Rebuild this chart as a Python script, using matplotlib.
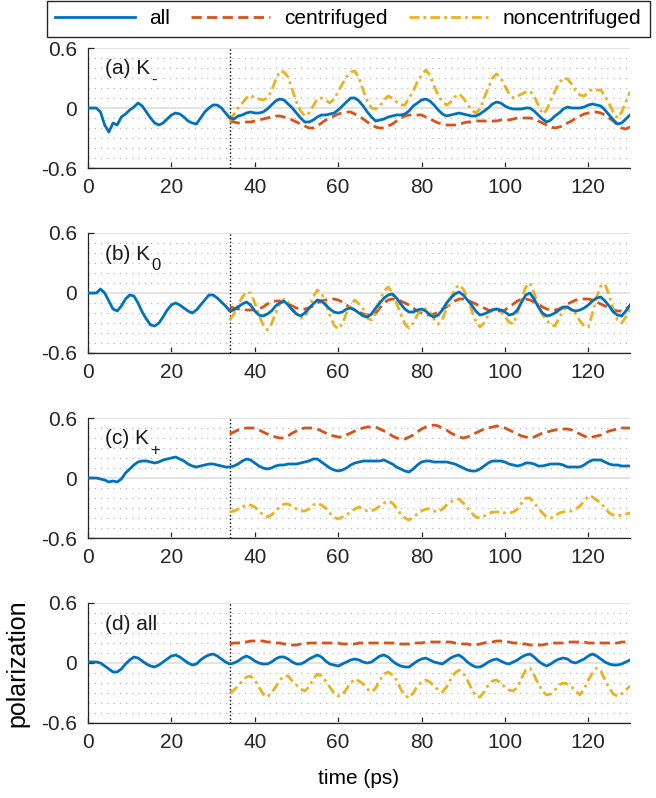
import matplotlib.pyplot as plt
import numpy as np
from matplotlib.ticker import MultipleLocator


# time axes (ps), sampled every 1 ps
t_all = np.arange(0, 131)
t_post = np.arange(34, 131)
t_switch = 34

# (a) K-
a_all = [0, 0, 0, -0.04, -0.17, -0.24, -0.15, -0.17, -0.09, -0.06,
         -0.02, 0.01, 0.05, 0.02, -0.04, -0.10, -0.15, -0.17, -0.15, -0.11,
         -0.07, -0.05, -0.06, -0.09, -0.13, -0.15, -0.16, -0.10, -0.04, 0.00,
         0.03, 0.03, 0.00, -0.05, -0.10, -0.11, -0.08, -0.07, -0.05, -0.04,
         -0.05, -0.05, -0.04, -0.01, 0.03, 0.07, 0.09, 0.08, 0.04, 0.00,
         -0.05, -0.10, -0.14, -0.14, -0.12, -0.09, -0.07, -0.07, -0.06, -0.05,
         -0.02, 0.02, 0.06, 0.10, 0.10, 0.07, 0.02, -0.04, -0.09, -0.13,
         -0.12, -0.11, -0.09, -0.08, -0.07, -0.07, -0.06, -0.03, 0.02, 0.05,
         0.08, 0.09, 0.07, 0.03, -0.02, -0.06, -0.08, -0.07, -0.06, -0.05,
         -0.06, -0.07, -0.08, -0.08, -0.06, -0.03, 0.00, 0.04, 0.06, 0.05,
         0.02, 0.00, -0.01, -0.01, -0.01, 0.00, 0.00, -0.03, -0.07, -0.11,
         -0.14, -0.12, -0.08, -0.05, -0.01, 0.01, 0.00, 0.00, 0.00, 0.01,
         0.03, 0.04, 0.03, 0.02, -0.02, -0.07, -0.12, -0.16, -0.15, -0.11,
         -0.07]
a_cen = [-0.13, -0.14, -0.15, -0.15, -0.14, -0.14, -0.13, -0.12, -0.11, -0.10,
         -0.09, -0.08, -0.08, -0.09, -0.10, -0.12, -0.14, -0.16, -0.18, -0.20,
         -0.20, -0.18, -0.15, -0.12, -0.10, -0.08, -0.06, -0.05, -0.04, -0.04,
         -0.06, -0.08, -0.11, -0.14, -0.17, -0.19, -0.20, -0.20, -0.18, -0.16,
         -0.13, -0.10, -0.08, -0.07, -0.07, -0.07, -0.07, -0.09, -0.11, -0.13,
         -0.15, -0.16, -0.17, -0.17, -0.17, -0.16, -0.15, -0.14, -0.14, -0.13,
         -0.13, -0.13, -0.13, -0.13, -0.13, -0.12, -0.12, -0.12, -0.11, -0.10,
         -0.10, -0.10, -0.10, -0.11, -0.13, -0.15, -0.17, -0.19, -0.20, -0.19,
         -0.18, -0.15, -0.13, -0.10, -0.08, -0.06, -0.05, -0.04, -0.04, -0.05,
         -0.07, -0.10, -0.13, -0.17, -0.20, -0.21, -0.19]
a_non = [-0.13, -0.06, 0.00, 0.05, 0.10, 0.13, 0.10, 0.09, 0.08, 0.10,
         0.17, 0.28, 0.37, 0.36, 0.31, 0.18, 0.06, -0.03, -0.08, -0.05,
         0.02, 0.09, 0.10, 0.08, 0.05, 0.09, 0.16, 0.24, 0.31, 0.36,
         0.37, 0.30, 0.18, 0.07, 0.00, -0.01, 0.02, 0.08, 0.12, 0.10,
         0.06, 0.03, 0.03, 0.10, 0.17, 0.26, 0.33, 0.38, 0.33, 0.22,
         0.13, 0.06, 0.03, 0.06, 0.11, 0.14, 0.10, 0.04, -0.02, -0.05,
         -0.01, 0.10, 0.20, 0.30, 0.34, 0.30, 0.22, 0.14, 0.10, 0.12,
         0.14, 0.16, 0.17, 0.12, 0.03, -0.06, -0.02, 0.08, 0.17, 0.25,
         0.30, 0.29, 0.24, 0.17, 0.13, 0.12, 0.16, 0.19, 0.18, 0.18,
         0.12, 0.04, -0.04, -0.10, -0.04, 0.06, 0.16]

# (b) K0
b_all = [0, 0, 0, 0.04, 0.00, -0.08, -0.16, -0.18, -0.13, -0.06,
         -0.02, -0.03, -0.10, -0.19, -0.26, -0.32, -0.33, -0.30, -0.24, -0.17,
         -0.12, -0.10, -0.12, -0.15, -0.18, -0.20, -0.17, -0.12, -0.07, -0.02,
         -0.02, -0.05, -0.09, -0.13, -0.18, -0.17, -0.14, -0.11, -0.09, -0.12,
         -0.18, -0.22, -0.23, -0.21, -0.18, -0.13, -0.10, -0.08, -0.12, -0.17,
         -0.21, -0.23, -0.20, -0.15, -0.11, -0.07, -0.08, -0.12, -0.16, -0.19,
         -0.20, -0.19, -0.16, -0.15, -0.17, -0.20, -0.23, -0.24, -0.21, -0.15,
         -0.10, -0.05, -0.02, -0.01, -0.05, -0.11, -0.16, -0.19, -0.19, -0.17,
         -0.16, -0.18, -0.22, -0.24, -0.22, -0.17, -0.10, -0.05, -0.01, 0.01,
         -0.02, -0.07, -0.12, -0.18, -0.22, -0.21, -0.19, -0.17, -0.16, -0.17,
         -0.19, -0.22, -0.21, -0.17, -0.09, -0.02, 0.00, -0.06, -0.14, -0.20,
         -0.23, -0.22, -0.20, -0.17, -0.14, -0.14, -0.17, -0.18, -0.17, -0.15,
         -0.12, -0.08, -0.05, -0.04, -0.08, -0.13, -0.19, -0.22, -0.23, -0.18,
         -0.12]
b_cen = [-0.14, -0.15, -0.16, -0.16, -0.17, -0.17, -0.17, -0.16, -0.14, -0.11,
         -0.09, -0.08, -0.08, -0.09, -0.11, -0.13, -0.15, -0.16, -0.16, -0.15,
         -0.13, -0.10, -0.08, -0.07, -0.06, -0.06, -0.07, -0.09, -0.12, -0.15,
         -0.17, -0.19, -0.21, -0.22, -0.22, -0.20, -0.15, -0.10, -0.07, -0.06,
         -0.07, -0.08, -0.10, -0.12, -0.15, -0.18, -0.20, -0.22, -0.22, -0.21,
         -0.19, -0.16, -0.14, -0.11, -0.08, -0.06, -0.06, -0.07, -0.09, -0.11,
         -0.13, -0.15, -0.17, -0.18, -0.18, -0.18, -0.17, -0.14, -0.11, -0.08,
         -0.06, -0.06, -0.07, -0.09, -0.11, -0.14, -0.16, -0.17, -0.17, -0.16,
         -0.14, -0.11, -0.09, -0.07, -0.06, -0.06, -0.06, -0.07, -0.09, -0.11,
         -0.13, -0.15, -0.17, -0.18, -0.18, -0.16, -0.13]
b_non = [-0.27, -0.21, -0.12, -0.04, 0.01, 0.00, -0.10, -0.22, -0.32, -0.37,
         -0.31, -0.20, -0.11, -0.06, -0.09, -0.15, -0.21, -0.25, -0.25, -0.15,
         -0.04, 0.03, 0.00, -0.10, -0.22, -0.32, -0.36, -0.31, -0.20, -0.12,
         -0.07, -0.11, -0.16, -0.25, -0.27, -0.20, -0.08, 0.02, 0.06, 0.00,
         -0.10, -0.21, -0.31, -0.35, -0.30, -0.22, -0.16, -0.16, -0.19, -0.26,
         -0.31, -0.26, -0.16, -0.05, 0.04, 0.08, 0.04, -0.05, -0.17, -0.28,
         -0.34, -0.30, -0.22, -0.16, -0.16, -0.19, -0.24, -0.29, -0.31, -0.20,
         -0.06, 0.06, 0.10, 0.00, -0.13, -0.22, -0.27, -0.32, -0.33, -0.25,
         -0.17, -0.14, -0.16, -0.21, -0.28, -0.33, -0.34, -0.20, -0.04, 0.07,
         0.09, -0.02, -0.17, -0.27, -0.30, -0.24, -0.16]

# (c) K+
c_all = [0, 0, 0, -0.01, -0.02, -0.04, -0.03, -0.04, -0.01, 0.05,
         0.09, 0.13, 0.16, 0.17, 0.17, 0.16, 0.15, 0.16, 0.18, 0.19,
         0.20, 0.21, 0.19, 0.17, 0.14, 0.12, 0.11, 0.12, 0.13, 0.14,
         0.14, 0.13, 0.12, 0.11, 0.11, 0.12, 0.14, 0.17, 0.19, 0.18,
         0.15, 0.12, 0.10, 0.09, 0.10, 0.12, 0.13, 0.13, 0.14, 0.14,
         0.14, 0.15, 0.16, 0.17, 0.19, 0.19, 0.16, 0.13, 0.10, 0.08,
         0.07, 0.08, 0.10, 0.13, 0.15, 0.16, 0.17, 0.17, 0.17, 0.17,
         0.17, 0.18, 0.16, 0.14, 0.11, 0.09, 0.07, 0.06, 0.09, 0.13,
         0.16, 0.17, 0.17, 0.16, 0.16, 0.16, 0.16, 0.15, 0.14, 0.12,
         0.10, 0.08, 0.07, 0.07, 0.09, 0.12, 0.15, 0.17, 0.17, 0.17,
         0.16, 0.14, 0.13, 0.12, 0.13, 0.15, 0.15, 0.14, 0.12, 0.12,
         0.13, 0.14, 0.14, 0.14, 0.13, 0.11, 0.11, 0.11, 0.11, 0.13,
         0.16, 0.18, 0.18, 0.18, 0.16, 0.14, 0.13, 0.13, 0.12, 0.12,
         0.12]
c_cen = [0.44, 0.46, 0.48, 0.49, 0.50, 0.50, 0.50, 0.48, 0.46, 0.44,
         0.42, 0.41, 0.40, 0.40, 0.42, 0.45, 0.47, 0.49, 0.50, 0.50,
         0.50, 0.49, 0.47, 0.45, 0.43, 0.42, 0.41, 0.41, 0.43, 0.45,
         0.47, 0.49, 0.50, 0.51, 0.51, 0.51, 0.49, 0.47, 0.45, 0.42,
         0.40, 0.39, 0.39, 0.41, 0.43, 0.46, 0.49, 0.51, 0.52, 0.53,
         0.52, 0.50, 0.48, 0.45, 0.43, 0.41, 0.40, 0.41, 0.43, 0.45,
         0.47, 0.49, 0.50, 0.51, 0.52, 0.51, 0.50, 0.48, 0.46, 0.44,
         0.42, 0.41, 0.40, 0.41, 0.43, 0.45, 0.46, 0.47, 0.48, 0.49,
         0.49, 0.49, 0.48, 0.46, 0.44, 0.42, 0.40, 0.41, 0.42, 0.43,
         0.45, 0.47, 0.48, 0.49, 0.50, 0.50, 0.50]
c_non = [-0.34, -0.33, -0.31, -0.29, -0.27, -0.27, -0.29, -0.33, -0.37, -0.39,
         -0.37, -0.33, -0.29, -0.26, -0.26, -0.28, -0.31, -0.33, -0.33, -0.31,
         -0.27, -0.25, -0.27, -0.30, -0.35, -0.39, -0.41, -0.39, -0.37, -0.34,
         -0.31, -0.29, -0.31, -0.33, -0.33, -0.31, -0.28, -0.25, -0.23, -0.25,
         -0.30, -0.36, -0.40, -0.42, -0.39, -0.36, -0.33, -0.31, -0.31, -0.33,
         -0.34, -0.31, -0.27, -0.24, -0.22, -0.21, -0.25, -0.30, -0.35, -0.39,
         -0.40, -0.38, -0.36, -0.34, -0.34, -0.34, -0.35, -0.35, -0.34, -0.31,
         -0.25, -0.20, -0.20, -0.25, -0.30, -0.35, -0.39, -0.40, -0.38, -0.35,
         -0.34, -0.33, -0.33, -0.31, -0.28, -0.23, -0.18, -0.19, -0.22, -0.25,
         -0.30, -0.35, -0.37, -0.38, -0.37, -0.36, -0.35]

# (d) all
d_all = [0.01, 0.01, 0.01, 0.00, -0.03, -0.06, -0.09, -0.09, -0.06, -0.01,
         0.03, 0.06, 0.05, 0.02, -0.01, -0.03, -0.04, -0.02, 0.01, 0.04,
         0.07, 0.08, 0.06, 0.03, 0.00, -0.02, -0.01, 0.03, 0.06, 0.08,
         0.09, 0.07, 0.04, 0.01, -0.01, 0.00, 0.02, 0.05, 0.07, 0.05,
         0.02, 0.00, -0.01, -0.01, 0.01, 0.04, 0.06, 0.06, 0.04, 0.01,
         -0.01, -0.01, 0.01, 0.04, 0.06, 0.08, 0.06, 0.02, -0.01, -0.02,
         -0.03, -0.01, 0.01, 0.03, 0.04, 0.03, 0.01, 0.00, 0.01, 0.04,
         0.07, 0.08, 0.06, 0.02, -0.01, -0.03, -0.04, -0.04, -0.01, 0.02,
         0.04, 0.05, 0.03, 0.01, 0.00, -0.01, 0.02, 0.05, 0.07, 0.08,
         0.05, 0.01, -0.02, -0.04, -0.04, -0.02, 0.01, 0.03, 0.04, 0.02,
         0.00, -0.01, 0.01, 0.03, 0.06, 0.08, 0.09, 0.06, 0.02, -0.01,
         -0.03, -0.01, 0.02, 0.04, 0.05, 0.04, 0.01, 0.00, 0.02, 0.04,
         0.07, 0.09, 0.07, 0.04, 0.01, -0.01, -0.02, -0.02, -0.01, 0.01,
         0.03]
d_cen = [0.19, 0.20, 0.20, 0.21, 0.21, 0.22, 0.22, 0.22, 0.22, 0.21,
         0.21, 0.20, 0.20, 0.19, 0.19, 0.18, 0.18, 0.19, 0.19, 0.20,
         0.20, 0.20, 0.20, 0.20, 0.20, 0.20, 0.20, 0.19, 0.19, 0.19,
         0.19, 0.20, 0.20, 0.20, 0.20, 0.20, 0.20, 0.20, 0.20, 0.20,
         0.20, 0.19, 0.19, 0.19, 0.20, 0.20, 0.20, 0.21, 0.21, 0.21,
         0.21, 0.21, 0.21, 0.21, 0.20, 0.20, 0.19, 0.19, 0.18, 0.18,
         0.19, 0.20, 0.21, 0.21, 0.22, 0.22, 0.21, 0.21, 0.20, 0.20,
         0.19, 0.19, 0.18, 0.18, 0.18, 0.18, 0.19, 0.19, 0.20, 0.20,
         0.20, 0.21, 0.21, 0.21, 0.21, 0.21, 0.20, 0.20, 0.20, 0.20,
         0.20, 0.20, 0.20, 0.20, 0.21, 0.21, 0.21]
d_non = [-0.30, -0.27, -0.23, -0.18, -0.14, -0.13, -0.17, -0.24, -0.31, -0.34,
         -0.30, -0.24, -0.17, -0.13, -0.13, -0.18, -0.22, -0.26, -0.28, -0.24,
         -0.16, -0.11, -0.13, -0.18, -0.24, -0.30, -0.33, -0.32, -0.26, -0.20,
         -0.16, -0.18, -0.21, -0.26, -0.29, -0.25, -0.17, -0.11, -0.09, -0.12,
         -0.17, -0.26, -0.32, -0.35, -0.30, -0.23, -0.19, -0.17, -0.19, -0.23,
         -0.27, -0.29, -0.24, -0.16, -0.10, -0.07, -0.10, -0.17, -0.26, -0.33,
         -0.34, -0.29, -0.22, -0.18, -0.17, -0.20, -0.24, -0.27, -0.28, -0.24,
         -0.15, -0.07, -0.05, -0.12, -0.21, -0.28, -0.32, -0.31, -0.27, -0.22,
         -0.20, -0.21, -0.24, -0.28, -0.32, -0.26, -0.17, -0.10, -0.05, -0.08,
         -0.17, -0.25, -0.31, -0.33, -0.31, -0.27, -0.23]

panel_names = ["(a) K", "(b) K", "(c) K", "(d) all"]
panel_subs = ["-", "0", "+", ""]
series_names = ["all", "centrifuged", "noncentrifuged"]

blue, orange, yellow = "#0072BD", "#D95319", "#EDB120"
ink = "#262626"

plt.rcParams.update({"font.family": "Liberation Sans", "font.size": 15,
                     "axes.unicode_minus": False})

fig = plt.figure(figsize=(6.56, 7.98), dpi=100)

left, width, height = 88 / 656, 542 / 656, 120 / 798
bottoms = [630 / 798, 445 / 798, 260 / 798, 75 / 798]

panels = [(a_all, a_cen, a_non), (b_all, b_cen, b_non),
          (c_all, c_cen, c_non), (d_all, d_cen, d_non)]

for i, (y_all, y_cen, y_non) in enumerate(panels):
    ax = fig.add_axes([left, bottoms[i], width, height])
    h1, = ax.plot(t_all, y_all, color=blue, lw=2, zorder=4)
    h2, = ax.plot(t_post, y_cen, color=orange, lw=2, dashes=(3.7, 1.9), zorder=3)
    h3, = ax.plot(t_post, y_non, color=yellow, lw=2, dashes=(3.5, 1.5, 1.0, 1.5), zorder=3)
    ax.axvline(t_switch, color="k", ls=":", lw=1, zorder=2)

    ax.set_xlim(0, 130)
    ax.set_ylim(-0.6, 0.6)
    ax.set_xticks([0, 20, 40, 60, 80, 100, 120])
    ax.set_yticks([-0.6, 0, 0.6])
    ax.set_yticklabels(["-0.6", "0", "0.6"])
    ax.yaxis.set_minor_locator(MultipleLocator(0.1))

    ax.grid(axis="y", which="major", color="#e0e0e0", lw=1.3, zorder=0)
    ax.grid(axis="y", which="minor", color="#b8b8b8", lw=0.9, ls=(0, (1, 4)), zorder=0)
    ax.set_axisbelow(True)

    for s in ["top", "right"]:
        ax.spines[s].set_visible(False)
    for s in ["left", "bottom"]:
        ax.spines[s].set_color(ink)
        ax.spines[s].set_linewidth(0.9)
    ax.tick_params(which="major", direction="in", length=4, width=0.9,
                   colors=ink, labelsize=15)
    ax.tick_params(axis="y", which="major", pad=8)
    ax.tick_params(axis="x", which="major", pad=7)
    ax.tick_params(which="minor", length=0)

    lab = ax.text(4, 0.39, panel_names[i], fontsize=15, ha="left", va="center",
                  color="#1a1a1a")
    if panel_subs[i]:
        ax.annotate(panel_subs[i], xy=(1.0, 0.3), xycoords=lab,
                    xytext=(1, 0), textcoords="offset points",
                    ha="left", va="top", fontsize=12, color="#1a1a1a")

    if i == 3:
        ax.set_xlabel("time (ps)", fontsize=15)
        ax.xaxis.label.set_va("center")
        ax.xaxis.set_label_coords(0.5, -0.46)
        ax.set_ylabel("polarization", fontsize=18)
        ax.yaxis.set_label_coords(-0.108, 0.5)

leg = fig.legend([h1, h2, h3], series_names, loc="upper left",
                 bbox_to_anchor=(47 / 656, 797 / 798), ncol=3, fontsize=15,
                 fancybox=False, edgecolor=ink, framealpha=1,
                 handlelength=3.8, handletextpad=0.7, columnspacing=1.0,
                 borderpad=0.4, borderaxespad=0)
leg.get_frame().set_linewidth(1)

fig.savefig("out.png", dpi=100)
